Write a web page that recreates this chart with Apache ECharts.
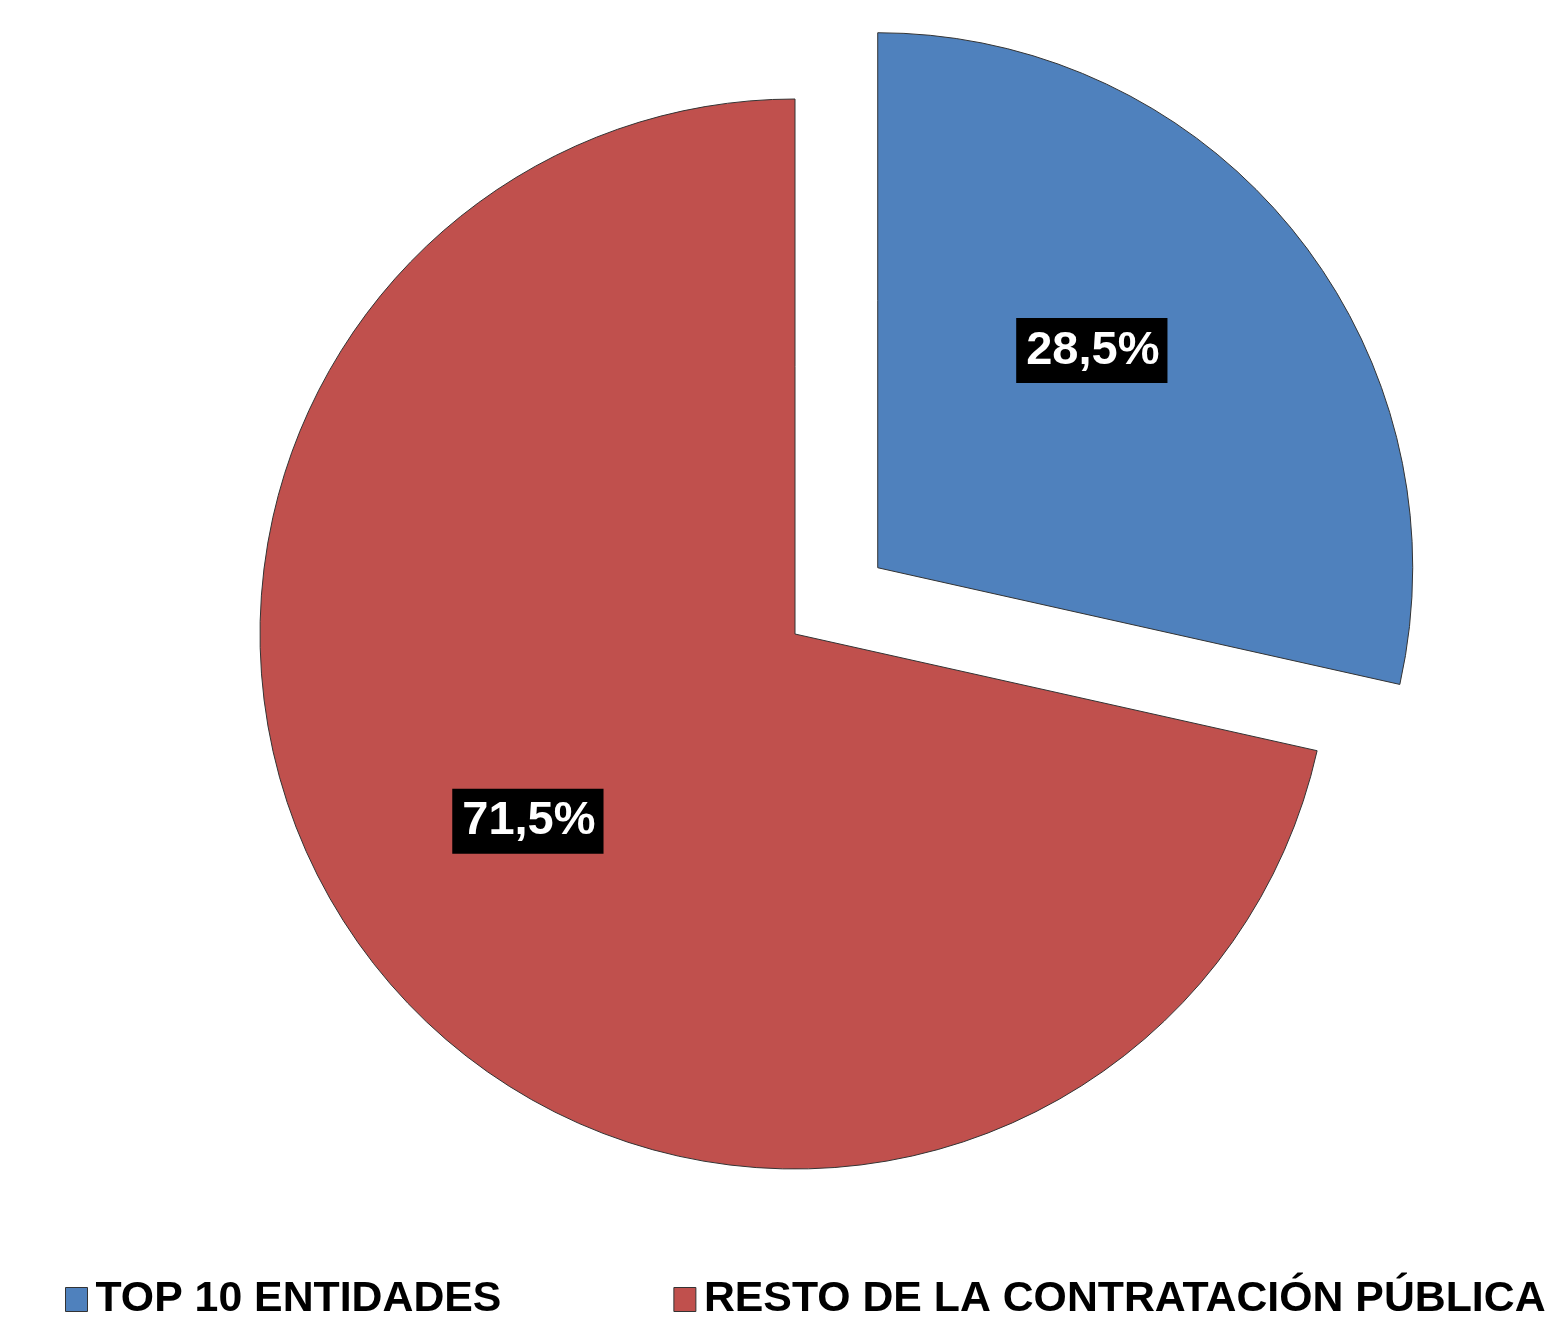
<!DOCTYPE html>
<html>
<head>
<meta charset="utf-8">
<script src="https://cdn.jsdelivr.net/npm/echarts@6/dist/echarts.min.js"></script>
<style>
  html, body { margin: 0; padding: 0; background: #fff; }
  .pie { width: 1554px; height: 1317px; }
</style>
</head>
<body>
<div class="pie"></div>
<script>
// datos
const categories = ['TOP 10 ENTIDADES', 'RESTO DE LA CONTRATACIÓN PÚBLICA'];
const shares = [28.5, 71.5];
const colors = ['#4F81BD', '#C0504D'];

{
  // ajuste fino de las etiquetas (posición como en Excel)
  const labelShift = [[3, -48], [-56, 18]];

  let option = {
    animation: false,
    legend: {
      data: categories,
      left: 65,
      bottom: -4,
      width: 1600,
      padding: 0,
      icon: 'rect',
      itemWidth: 22,
      itemHeight: 24,
      itemGap: 172,
      textStyle: {
        fontFamily: 'Liberation Sans, Arial, sans-serif',
        fontWeight: 'bold',
        fontSize: 42.8,
        color: '#000',
        padding: [0, 0, 0, 3]
      },
      itemStyle: { borderColor: '#333', borderWidth: 1 }
    },
    series: [{
      name: 'Contratación',
      type: 'pie',
      center: [795, 634],
      radius: 535,
      startAngle: 90,
      clockwise: true,
      selectedMode: 'single',
      selectedOffset: 106,
      data: categories.map((name, i) => ({
        name: name,
        value: shares[i],
        selected: i === 0,
        itemStyle: { color: colors[i] }
      })),
      itemStyle: { borderColor: '#333', borderWidth: 1 },
      label: {
        show: true,
        position: 'inside',
        formatter: p => p.value.toFixed(1).replace('.', ',') + '%',
        fontFamily: 'Liberation Sans, Arial, sans-serif',
        fontWeight: 'bold',
        fontSize: 47,
        color: '#fff',
        backgroundColor: '#000',
        padding: [9, 8, 9, 10]
      },
      labelLine: { show: false },
      labelLayout: params => ({
        dx: labelShift[params.dataIndex][0],
        dy: labelShift[params.dataIndex][1]
      }),
      emphasis: { disabled: true }
    }]
  };
  let myChart = echarts.init(document.querySelector('.pie'));
  myChart.setOption(option);
}
</script>
</body>
</html>
